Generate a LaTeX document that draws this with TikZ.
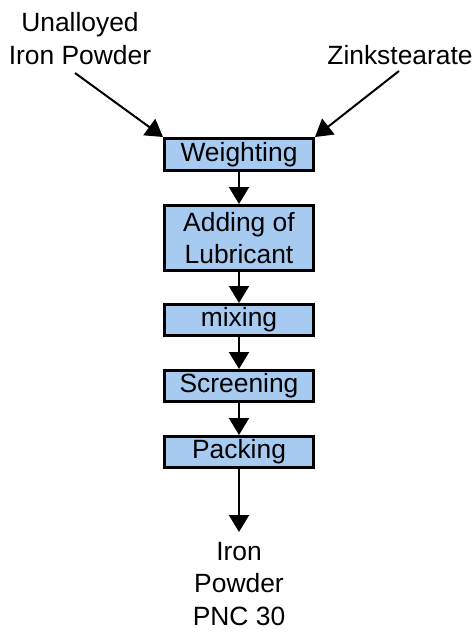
\documentclass[tikz,border=0pt]{standalone}
\usepackage{fontspec}
\setmainfont{Liberation Sans}
\usetikzlibrary{arrows.meta}
\definecolor{boxblue}{HTML}{A6CAF0}
\tikzset{
  txt/.style={font={\fontsize{26.4}{32.5}\selectfont}, inner sep=0pt, align=center},
  stepbox/.style={txt, draw=black, line width=3pt, fill=boxblue,
    minimum width=149pt, minimum height=31pt},
  flow/.style={line width=2pt, -{Triangle[length=17pt,width=20pt]}},
}
\begin{document}
\begin{tikzpicture}[x=1pt, y=-1pt]
  \useasboundingbox (0,0) rectangle (475,632);

  % inputs
  \node[txt] (iron) at (80,38.6) {Unalloyed\\Iron Powder};
  \node[txt, anchor=base] (zink) at (400,64) {Zinkstearate};
  \coordinate (ironend) at (75,73);
  \coordinate (zinkend) at (399,71);

  % process steps
  \node[stepbox, minimum height=32pt] (weigh) at (239,154.5) {Weighting};
  \node[stepbox, minimum height=65pt] (lub)   at (239,238) {Adding of\\Lubricant};
  \node[stepbox] (mix)   at (239,320) {mixing};
  \node[stepbox] (screen) at (239,386) {Screening};
  \node[stepbox] (pack)  at (239,452) {Packing};

  % product
  \coordinate (prodtip) at (239,532);
  \node[txt, anchor=north] (prod) at (239,542.1) {Iron\\Powder\\PNC 30};

  % connectors
  \draw[flow] (ironend) -- (weigh.north west);
  \draw[flow] (zinkend) -- (weigh.north east);
  \draw[flow] (weigh) -- (lub);
  \draw[flow] (lub) -- (mix);
  \draw[flow] (mix) -- (screen);
  \draw[flow] (screen) -- (pack);
  \draw[flow] (pack) -- (prodtip);
\end{tikzpicture}
\end{document}
